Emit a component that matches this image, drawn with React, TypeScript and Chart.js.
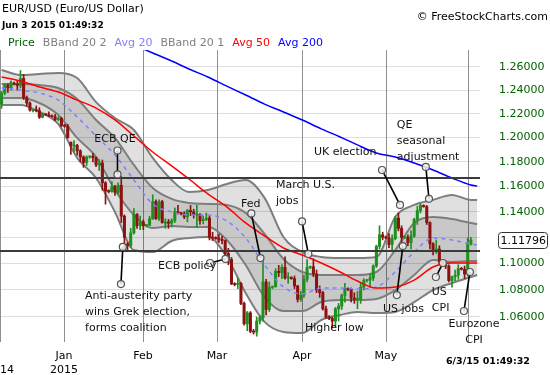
import React, { useEffect, useRef } from "react";
import { Chart, registerables } from "chart.js";

Chart.register(...registerables);

const FONT = "'DejaVu Sans', Verdana, sans-serif";

// ---- daily candles (index = trading session) ----
const opens = [
  1.2280,1.2375,1.2440,1.2420,1.2460,1.2450,1.2440,1.2500,1.2335,1.2290,
  1.2225,1.2230,1.2225,1.2170,1.2195,1.2190,1.2180,1.2175,1.2150,1.2160,
  1.2100,1.2095,1.1960,1.1930,1.1935,1.1890,1.1840,1.1795,1.1840,1.1845,
  1.1835,1.1775,1.1790,1.1630,1.1565,1.1560,1.1600,1.1555,1.1610,1.1365,
  1.1150,1.1135,1.1235,1.1380,1.1290,1.1320,1.1290,1.1295,1.1345,1.1480,
  1.1345,1.1480,1.1310,1.1320,1.1310,1.1330,1.1400,1.1390,1.1385,1.1360,
  1.1410,1.1400,1.1375,1.1380,1.1330,1.1340,1.1350,1.1200,1.1195,1.1190,
  1.1185,1.1175,1.1075,1.1030,1.0845,1.0840,1.0850,1.0700,1.0550,1.0630,
  1.0495,1.0490,1.0570,1.0595,1.0860,1.0655,1.0820,1.0825,1.0940,1.0930,
  1.0970,1.0890,1.0890,1.0885,1.0830,1.0730,1.0760,1.0880,1.0970,1.0975,
  1.0920,1.0800,1.0780,1.0660,1.0600,1.0590,1.0570,1.0660,1.0680,1.0760,
  1.0810,1.0805,1.0740,1.0730,1.0730,1.0820,1.0870,1.0875,1.0890,1.0980,
  1.1130,1.1220,1.1200,1.1195,1.1145,1.1190,1.1350,1.1270,1.1200,1.1200,
  1.1160,1.1210,1.1340,1.1410,1.1450,1.1440,1.1315,1.1150,1.1090,1.1110,
  1.1010,1.1000,1.0980,1.0870,1.0900,1.0910,1.0960,1.0955,1.0920,1.1150,
];
const highs = [
  1.2390,1.2455,1.2455,1.2480,1.2470,1.2480,1.2570,1.2535,1.2350,1.2300,
  1.2235,1.2265,1.2250,1.2205,1.2200,1.2215,1.2190,1.2195,1.2175,1.2170,
  1.2110,1.2110,1.1965,1.1975,1.1945,1.1900,1.1850,1.1850,1.1850,1.1870,
  1.1840,1.1820,1.1815,1.1640,1.1575,1.1640,1.1610,1.1630,1.1680,1.1375,
  1.1160,1.1270,1.1425,1.1385,1.1365,1.1335,1.1300,1.1365,1.1535,1.1495,
  1.1495,1.1490,1.1345,1.1340,1.1345,1.1430,1.1450,1.1395,1.1400,1.1420,
  1.1450,1.1420,1.1450,1.1385,1.1365,1.1390,1.1365,1.1240,1.1205,1.1225,
  1.1210,1.1180,1.1115,1.1045,1.0855,1.0890,1.0855,1.0710,1.0640,1.0640,
  1.0510,1.0600,1.0610,1.1045,1.0880,1.0860,1.0830,1.0960,1.0985,1.0990,
  1.1050,1.0930,1.0900,1.0905,1.0835,1.0790,1.0910,1.1030,1.0980,1.1035,
  1.0950,1.0830,1.0790,1.0680,1.0610,1.0600,1.0670,1.0700,1.0770,1.0850,
  1.0815,1.0815,1.0780,1.0790,1.0850,1.0885,1.0880,1.0920,1.0990,1.1140,
  1.1290,1.1240,1.1210,1.1230,1.1220,1.1365,1.1390,1.1290,1.1210,1.1220,
  1.1250,1.1350,1.1445,1.1465,1.1455,1.1450,1.1320,1.1160,1.1180,1.1135,
  1.1015,1.1010,1.0990,1.0905,1.0950,1.0990,1.0970,1.0980,1.1195,1.1200,
];
const lows = [
  1.2245,1.2360,1.2380,1.2400,1.2445,1.2400,1.2420,1.2320,1.2265,1.2220,
  1.2215,1.2215,1.2160,1.2165,1.2185,1.2175,1.2170,1.2140,1.2140,1.2090,
  1.2085,1.1995,1.1860,1.1880,1.1855,1.1800,1.1755,1.1770,1.1830,1.1800,
  1.1760,1.1730,1.1570,1.1460,1.1550,1.1555,1.1530,1.1540,1.1315,1.1115,
  1.1098,1.1120,1.1225,1.1270,1.1260,1.1260,1.1280,1.1290,1.1340,1.1340,
  1.1330,1.1310,1.1270,1.1270,1.1280,1.1315,1.1380,1.1375,1.1345,1.1320,
  1.1370,1.1350,1.1275,1.1300,1.1305,1.1330,1.1180,1.1175,1.1185,1.1160,
  1.1150,1.1060,1.0990,1.0840,1.0830,1.0810,1.0690,1.0540,1.0500,1.0485,
  1.0475,1.0460,1.0550,1.0570,1.0615,1.0640,1.0810,1.0820,1.0900,1.0885,
  1.0880,1.0850,1.0880,1.0810,1.0710,1.0715,1.0745,1.0860,1.0960,1.0900,
  1.0780,1.0745,1.0650,1.0590,1.0580,1.0520,1.0530,1.0570,1.0655,1.0710,
  1.0795,1.0710,1.0700,1.0660,1.0700,1.0800,1.0860,1.0820,1.0870,1.0970,
  1.1110,1.1180,1.1190,1.1120,1.1100,1.1180,1.1250,1.1140,1.1190,1.1135,
  1.1110,1.1200,1.1300,1.1390,1.1435,1.1300,1.1110,1.1065,1.1075,1.0990,
  1.0995,1.0960,1.0860,1.0820,1.0870,1.0880,1.0950,1.0885,1.0905,1.1140,
];
const closes = [
  1.2375,1.2440,1.2420,1.2465,1.2450,1.2440,1.2500,1.2335,1.2290,1.2230,
  1.2230,1.2225,1.2170,1.2195,1.2190,1.2180,1.2175,1.2150,1.2160,1.2100,
  1.2095,1.2000,1.1930,1.1935,1.1890,1.1840,1.1795,1.1840,1.1845,1.1835,
  1.1775,1.1790,1.1630,1.1565,1.1560,1.1600,1.1555,1.1610,1.1365,1.1200,
  1.1135,1.1235,1.1380,1.1290,1.1320,1.1290,1.1295,1.1345,1.1480,1.1345,
  1.1480,1.1315,1.1320,1.1310,1.1330,1.1400,1.1390,1.1385,1.1360,1.1410,
  1.1400,1.1375,1.1380,1.1330,1.1340,1.1350,1.1200,1.1195,1.1190,1.1185,
  1.1175,1.1075,1.1030,1.0845,1.0840,1.0850,1.0700,1.0550,1.0630,1.0495,
  1.0490,1.0570,1.0595,1.0860,1.0655,1.0820,1.0825,1.0940,1.0930,1.0970,
  1.0890,1.0890,1.0885,1.0830,1.0730,1.0760,1.0880,1.0970,1.0975,1.0920,
  1.0800,1.0780,1.0660,1.0600,1.0590,1.0570,1.0660,1.0680,1.0760,1.0810,
  1.0805,1.0740,1.0730,1.0730,1.0820,1.0870,1.0875,1.0890,1.0980,1.1130,
  1.1220,1.1200,1.1195,1.1145,1.1190,1.1350,1.1270,1.1200,1.1200,1.1160,
  1.1210,1.1340,1.1410,1.1450,1.1440,1.1315,1.1150,1.1090,1.1110,1.1010,
  1.1000,1.0980,1.0870,1.0900,1.0910,1.0960,1.0955,1.0920,1.1150,1.1180,
];

// ---- indicator lines, sampled at these session indexes ----
const bandX = [0, 6, 12, 18, 24, 30, 36, 42, 48, 54, 59.5, 65.5, 71.5, 77.5, 83.5, 89.5, 95.5, 101.5, 107.5, 113, 119, 125, 131, 137, 143, 149, 151];
const bb2Upper = [1.2574,1.2530,1.2539,1.2548,1.2504,1.2298,1.2163,1.2063,1.1832,1.1653,1.1557,1.1573,1.1621,1.1653,1.1510,1.1203,1.1087,1.1049,1.1041,1.1041,1.1049,1.1359,1.1454,1.1494,1.1533,1.1494,1.1494];
const bb1Upper = [1.2453,1.2453,1.2444,1.2418,1.2324,1.2147,1.1997,1.1775,1.1589,1.1502,1.1470,1.1462,1.1454,1.1391,1.1226,1.1034,1.0935,1.0912,1.0912,1.0912,1.0935,1.1102,1.1312,1.1359,1.1343,1.1312,1.1304];
const avg20 = [1.2418,1.2401,1.2375,1.2315,1.2172,1.2013,1.1857,1.1653,1.1462,1.1398,1.1375,1.1375,1.1328,1.1195,1.0988,1.0822,1.0770,1.0814,1.0814,1.0807,1.0822,1.0935,1.1087,1.1195,1.1180,1.1149,1.1141];
const bb1Lower = [1.2332,1.2332,1.2290,1.2188,1.1997,1.1840,1.1573,1.1375,1.1273,1.1288,1.1281,1.1281,1.1180,1.0988,1.0747,1.0644,1.0644,1.0710,1.0725,1.0725,1.0733,1.0799,1.0912,1.1026,1.1011,1.1018,1.1018];
const bb2Lower = [1.2273,1.2273,1.2214,1.2113,1.1832,1.1669,1.1398,1.1102,1.1087,1.1172,1.1195,1.1203,1.1049,1.0777,1.0564,1.0491,1.0483,1.0578,1.0615,1.0637,1.0629,1.0637,1.0710,1.0799,1.0852,1.0897,1.0912];
const avg50 = [1.2513,1.2478,1.2427,1.2384,1.2315,1.2247,1.2147,1.2013,1.1881,1.1767,1.1661,1.1541,1.1438,1.1312,1.1211,1.1118,1.1064,1.1003,1.0935,1.0867,1.0814,1.0822,1.0874,1.0973,1.1003,1.1003,1.1003];
const avg200X = [42, 48, 54, 59.5, 65.5, 71.5, 77.5, 83.5, 89.5, 95.5, 101.5, 107.5, 113, 119, 125, 131, 137, 143, 149, 151];
const avg200 = [1.2793,1.2723,1.2652,1.2583,1.2513,1.2435,1.2358,1.2281,1.2214,1.2147,1.2072,1.2005,1.1939,1.1873,1.1840,1.1791,1.1734,1.1669,1.1613,1.1605];

// ---- axes ----
const yTicks = [1.06, 1.08, 1.10, 1.12, 1.14, 1.16, 1.18, 1.20, 1.22, 1.24, 1.26];
const monthGridX = [-0.5, 19.8, 44.9, 68.4, 95.4, 122.0, 148.1];
const monthLabelTop = ["", "Jan", "Feb", "Mar", "Apr", "May", ""];
const monthLabelBottom = ["2014", "2015", "", "", "", "", ""];
const levelLines = [1.1672, 1.1097];
const lastPrice = 1.11796;

// ---- annotations ----
const noteLines = [
  ["ECB QE"],
  ["Anti-austerity party", "wins Grek election,", "forms coalition"],
  ["ECB policy"],
  ["Fed"],
  ["March U.S.", "jobs"],
  ["UK election"],
  ["QE", "seasonal", "adjustment"],
  ["US jobs"],
  ["US", "CPI"],
  ["Eurozone", "CPI"],
  ["Higher low"],
];
const noteX = [36.0, 26.5, 49.7, 76.0, 87.1, 99.2, 125.5, 121.1, 136.6, 150.0, 96.3];
const noteP = [1.1988, 1.0755, 1.0980, 1.1462, 1.1613, 1.1881, 1.2105, 1.0659, 1.0784, 1.0549, 1.0520];
const noteAlign = ["center", "left", "left", "left", "left", "left", "left", "left", "left", "center", "left"];
const linkFromX = [36.8, 38.5, 66.2, 79.3, 95.4, 120.8, 134.7, 127.4, 137.9, 146.8];
const linkFromP = [1.1893, 1.1126, 1.1003, 1.1387, 1.1324, 1.1734, 1.1759, 1.1133, 1.0897, 1.0644];
const linkToX = [36.8, 37.9, 71.1, 82.2, 97.4, 126.5, 135.7, 125.5, 140.1, 148.7];
const linkToP = [1.1698, 1.0844, 1.1034, 1.1041, 1.1072, 1.1454, 1.1502, 1.0762, 1.1003, 1.0935];

const legendItems = ["Price", "BBand 20 2", "Avg 20", "BBand 20 1", "Avg 50", "Avg 200"];
const legendColors = ["#006400", "#808080", "#8080ff", "#808080", "#ff0000", "#0000ff"];

const UP = "#1f8f1f";
const DOWN = "#8c1111";

const pts = (xs: number[], ys: number[]) => xs.map((x, i) => ({ x, y: ys[i] }));

const overlay = {
  id: "overlay",
  beforeDatasetsDraw(chart: any) {
    const { ctx, chartArea: a, scales } = chart;
    const x = scales.x;
    ctx.save();
    ctx.strokeStyle = "#8f8f8f";
    ctx.lineWidth = 1;
    monthGridX.forEach((v) => {
      const px = Math.round(x.getPixelForValue(v)) + 0.5;
      ctx.beginPath();
      ctx.moveTo(px, a.top);
      ctx.lineTo(px, a.bottom);
      ctx.stroke();
    });
    ctx.restore();
  },
  afterDatasetsDraw(chart: any) {
    const { ctx, chartArea: a, scales } = chart;
    const x = scales.x, y = scales.y;
    ctx.save();
    ctx.strokeStyle = "#3a3a3a";
    ctx.lineWidth = 2;
    levelLines.forEach((v) => {
      const py = Math.round(y.getPixelForValue(v));
      ctx.beginPath();
      ctx.moveTo(a.left, py);
      ctx.lineTo(a.right, py);
      ctx.stroke();
    });
    linkFromX.forEach((fx, i) => {
      const x1 = x.getPixelForValue(fx), y1 = y.getPixelForValue(linkFromP[i]);
      const x2 = x.getPixelForValue(linkToX[i]), y2 = y.getPixelForValue(linkToP[i]);
      ctx.strokeStyle = "#000";
      ctx.lineWidth = 1.6;
      ctx.beginPath();
      ctx.moveTo(x1, y1);
      ctx.lineTo(x2, y2);
      ctx.stroke();
      [[x1, y1], [x2, y2]].forEach(([cx, cy]) => {
        ctx.beginPath();
        ctx.arc(cx, cy, 3.5, 0, Math.PI * 2);
        ctx.fillStyle = "rgba(245,245,245,0.85)";
        ctx.fill();
        ctx.strokeStyle = "#555";
        ctx.lineWidth = 1.2;
        ctx.stroke();
      });
    });
    ctx.font = `11px ${FONT}`;
    ctx.fillStyle = "#111";
    ctx.textBaseline = "middle";
    noteLines.forEach((lines, i) => {
      const px = x.getPixelForValue(noteX[i]);
      const py = y.getPixelForValue(noteP[i]);
      ctx.textAlign = noteAlign[i] as CanvasTextAlign;
      lines.forEach((t, k) => ctx.fillText(t, px, py + k * 16));
    });
    ctx.restore();
  },
  afterDraw(chart: any) {
    const { ctx, chartArea: a, scales } = chart;
    const x = scales.x, y = scales.y;
    ctx.save();
    ctx.textBaseline = "middle";
    ctx.textAlign = "left";
    ctx.fillStyle = "#000";
    ctx.font = `11px ${FONT}`;
    ctx.fillText("EUR/USD (Euro/US Dollar)", 2, 9);
    ctx.font = `bold 9px ${FONT}`;
    ctx.fillText("Jun 3 2015 01:49:32", 2, 26);
    ctx.font = `11px ${FONT}`;
    ctx.textAlign = "right";
    ctx.fillText("\u00A9 FreeStockCharts.com", 548, 17);
    ctx.textAlign = "left";
    let lx = 8;
    legendItems.forEach((t, i) => {
      ctx.fillStyle = legendColors[i];
      ctx.fillText(t, lx, 43);
      lx += ctx.measureText(t).width + 8;
    });
    ctx.fillStyle = "#000";
    ctx.textAlign = "center";
    monthGridX.forEach((v, i) => {
      const px = x.getPixelForValue(v);
      if (monthLabelTop[i]) ctx.fillText(monthLabelTop[i], px, 356);
      if (monthLabelBottom[i]) ctx.fillText(monthLabelBottom[i], px, 370);
    });
    ctx.font = `bold 9.5px ${FONT}`;
    ctx.textAlign = "left";
    ctx.fillText("6/3/15 01:49:32", 446, 362);
    const py = Math.round(y.getPixelForValue(lastPrice));
    const bx = a.right + 19, bw = 49, bh = 16;
    ctx.beginPath();
    ctx.roundRect(bx - 0.5, py - bh / 2 + 0.5, bw, bh, 3);
    ctx.fillStyle = "#fff";
    ctx.fill();
    ctx.strokeStyle = "#333";
    ctx.lineWidth = 1;
    ctx.stroke();
    ctx.fillStyle = "#000";
    ctx.font = `11px ${FONT}`;
    ctx.fillText(lastPrice.toFixed(5), bx + 1.5, py + 1);
    ctx.restore();
  },
};

export default function App() {
  const ref = useRef<HTMLCanvasElement>(null);
  useEffect(() => {
    const canvas = ref.current!;
    const up = closes.map((c, i) => c >= opens[i]);
    const colors = up.map((u) => (u ? UP : DOWN));
    const chart = new Chart(canvas, {
      type: "bar",
      data: {
        datasets: [
          { type: "line", data: pts(bandX, bb2Upper), borderColor: "#7d7d7d", borderWidth: 2, pointRadius: 0, fill: 1, backgroundColor: "rgba(0,0,0,0.12)", cubicInterpolationMode: "monotone", order: 20 } as any,
          { type: "line", data: pts(bandX, bb2Lower), borderColor: "#7d7d7d", borderWidth: 2, pointRadius: 0, fill: false, cubicInterpolationMode: "monotone", order: 19 } as any,
          { type: "line", data: pts(bandX, bb1Upper), borderColor: "#7d7d7d", borderWidth: 2, pointRadius: 0, fill: 3, backgroundColor: "rgba(0,0,0,0.11)", cubicInterpolationMode: "monotone", order: 18 } as any,
          { type: "line", data: pts(bandX, bb1Lower), borderColor: "#7d7d7d", borderWidth: 2, pointRadius: 0, fill: false, cubicInterpolationMode: "monotone", order: 17 } as any,
          { type: "bar", data: lows.map((l, i) => ({ x: i, y: [l, highs[i]] })), backgroundColor: colors, borderWidth: 0, barThickness: 1, grouped: false, order: 10 } as any,
          { type: "bar", data: opens.map((o, i) => ({ x: i, y: [o, closes[i]] })), backgroundColor: colors, borderWidth: 0, barThickness: 2.4, minBarLength: 1, grouped: false, order: 9 } as any,
          { type: "line", data: pts(bandX, avg20), borderColor: "#8080ff", borderWidth: 1.5, borderDash: [4, 4], pointRadius: 0, fill: false, cubicInterpolationMode: "monotone", order: 3 } as any,
          { type: "line", data: pts(bandX, avg50), borderColor: "#ff0000", borderWidth: 1.5, pointRadius: 0, fill: false, cubicInterpolationMode: "monotone", order: 2 } as any,
          { type: "line", data: pts(avg200X, avg200), borderColor: "#0000ff", borderWidth: 1.5, pointRadius: 0, fill: false, cubicInterpolationMode: "monotone", order: 1 } as any,
        ],
      },
      options: {
        responsive: false,
        animation: false,
        devicePixelRatio: 1,
        events: [],
        layout: { padding: { top: 50, bottom: 33, left: 0, right: 0 } },
        plugins: { legend: { display: false }, tooltip: { enabled: false }, title: { display: false } },
        scales: {
          x: { type: "linear", min: -0.5, max: 151.9, display: false, offset: false },
          y: {
            type: "logarithmic",
            position: "right",
            min: 1.04183,
            max: 1.27489,
            afterBuildTicks: (s: any) => { s.ticks = yTicks.map((v) => ({ value: v })); },
            afterFit: (s: any) => { s.width = 70; },
            ticks: {
              color: "#006400",
              font: { family: FONT, size: 11 },
              padding: 19,
              autoSkip: false,
              callback: (v: any) => (Math.abs(Number(v) - 1.12) < 1e-6 ? "" : Number(v).toFixed(5)),
            },
            grid: { color: "#dedede", drawTicks: false },
            border: { display: false },
          },
        },
      } as any,
      plugins: [overlay],
    });
    return () => chart.destroy();
  }, []);
  return (
    <div style={{ position: "absolute", left: 0, top: 0, width: 550, height: 375, background: "#fff" }}>
      <canvas ref={ref} width={550} height={375} style={{ display: "block", width: 550, height: 375 }} />
    </div>
  );
}
